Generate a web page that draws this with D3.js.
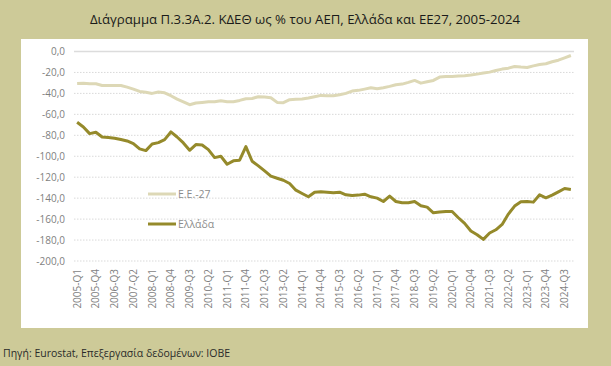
<!DOCTYPE html>
<html><head><meta charset="utf-8">
<script src="https://cdn.jsdelivr.net/npm/d3@7"></script>
<style>
html,body{margin:0;padding:0;background:#cdca98;}
svg{display:block;}
</style></head>
<body>
<svg id="c" width="611" height="366"></svg>
<script>
const title = "Διάγραμμα Π.3.3Α.2. ΚΔΕΘ ως % του ΑΕΠ, Ελλάδα και ΕΕ27, 2005-2024";
const source = "Πηγή: Eurostat, Επεξεργασία δεδομένων: ΙΟΒΕ";
const seriesNames = ["Ε.Ε.-27", "Ελλάδα"];
const quarters = [];
for (let y = 2005; y <= 2024; y++) for (let q = 1; q <= 4; q++) quarters.push(y + "-Q" + q);
const tickLabels = ["2005-Q1","2005-Q4","2006-Q3","2007-Q2","2008-Q1","2008-Q4","2009-Q3","2010-Q2","2011-Q1","2011-Q4","2012-Q3","2013-Q2","2014-Q1","2014-Q4","2015-Q3","2016-Q2","2017-Q1","2017-Q4","2018-Q3","2019-Q2","2020-Q1","2020-Q4","2021-Q3","2022-Q2","2023-Q1","2023-Q4","2024-Q3"];
const yTicks = [0,-20,-40,-60,-80,-100,-120,-140,-160,-180,-200];
const eu27 = [-30.5,-30.2,-30.8,-30.8,-32.4,-32.4,-32.4,-32.4,-34,-35.9,-38.1,-39,-40,-38.7,-39.4,-42.2,-45.4,-48,-50.8,-49.2,
  -48.6,-47.9,-47.9,-47,-47.9,-47.9,-46.7,-45.1,-44.8,-43.2,-43.5,-44.1,-48.6,-48.9,-46,-45.7,-45.4,-44.4,-43.2,-41.9,
  -42.2,-42.2,-41.3,-40,-37.8,-37.1,-35.9,-34.6,-35.6,-34.6,-33.3,-31.7,-31.1,-29.5,-27.6,-30.2,-28.9,-27.6,-24.4,-23.8,
  -23.8,-23.5,-23.2,-22.5,-21.6,-20.6,-19.7,-18.1,-16.8,-15.9,-14.3,-14.9,-15.2,-13.7,-12.4,-11.7,-9.8,-8.3,-6,-3.8];
const greece = [-67.6,-72,-78.4,-77.1,-81.6,-82.2,-82.9,-84.1,-85.4,-87.9,-93,-94.6,-88.3,-87,-84.1,-76.8,-81.6,-87.3,-94.3,-88.9,
  -89.2,-93.7,-101.3,-100,-107.6,-104.4,-103.8,-90.8,-104.8,-109.2,-114,-119,-121,-122.9,-126,-132.4,-135.6,-138.7,-134.3,-134,
  -134.3,-134.9,-134.3,-136.8,-137.5,-137.1,-136.2,-138.7,-140,-143.2,-138.1,-143.2,-144.4,-144.4,-143.2,-147.3,-148.6,-154,-153.3,-152.7,
  -152.7,-158.7,-164.1,-171.4,-174.9,-179.4,-173.3,-170.2,-165.1,-155.2,-147.6,-143.5,-143.2,-143.8,-136.8,-139.7,-137.1,-134,-130.8,-131.7];

const svg = d3.select("#c");
const font = "'Open Sans', 'Noto Sans', sans-serif";
svg.append("rect").attr("x",0).attr("y",0).attr("width",611).attr("height",366).attr("fill","#cdca98");
svg.append("rect").attr("x",21).attr("y",39).attr("width",567).attr("height",289).attr("fill","#ffffff");

svg.append("text").attr("x",305).attr("y",24).attr("text-anchor","middle")
  .attr("font-family",font).attr("font-size",13.2).attr("fill","#1a1a1a").text(title);
svg.append("text").attr("x",3).attr("y",357)
  .attr("font-family",font).attr("font-size",10.5).attr("fill","#2a2a2a").text(source);

const x = d3.scaleBand().domain(quarters).range([74,574]);
const y = d3.scaleLinear().domain([-200,0]).range([261,51.5]);
const cx = d => x(d) + x.bandwidth()/2;

// gridlines
const grid = svg.append("g");
yTicks.forEach(t => {
  grid.append("line").attr("x1",74).attr("x2",574).attr("y1",y(t)).attr("y2",y(t))
    .attr("stroke", t===0 ? "#dcdcdc" : "#d9d9d9")
    .attr("stroke-width", t===0 ? 1.5 : 1)
    .attr("stroke-dasharray", t===0 ? null : "1.5,1.5");
});

// y axis
const yAxis = d3.axisLeft(y).tickValues(yTicks).tickSize(0).tickPadding(0)
  .tickFormat(d => d3.format(".1f")(d).replace(".", ",").replace("−","-"));
const ya = svg.append("g").attr("transform","translate(65,0)").call(yAxis);
ya.select(".domain").remove();
ya.selectAll("text").attr("font-family",font).attr("font-size",10).attr("fill","#7f7f7f");

// x axis
const xAxis = d3.axisBottom(x).tickValues(tickLabels).tickSize(0).tickPadding(0);
const xa = svg.append("g").call(xAxis);
xa.select(".domain").remove();
xa.selectAll("text").attr("font-family",font).attr("font-size",10).attr("fill","#7f7f7f")
  .attr("text-anchor","end").attr("transform","rotate(-90)").attr("dy","0.35em").attr("x",0).attr("y",0);
xa.selectAll(".tick").attr("transform", d => `translate(${cx(d)},269)`);

const line = d3.line().x((d,i) => cx(quarters[i])).y(d => y(d));
svg.append("path").datum(eu27).attr("d",line).attr("fill","none").attr("stroke","#ddd8b6").attr("stroke-width",3).attr("stroke-linejoin","round");
svg.append("path").datum(greece).attr("d",line).attr("fill","none").attr("stroke","#958a2b").attr("stroke-width",3).attr("stroke-linejoin","round");

// legend
const leg = [{name:seriesNames[0], color:"#ddd8b6", y:194},{name:seriesNames[1], color:"#958a2b", y:224}];
leg.forEach(l => {
  svg.append("line").attr("x1",148).attr("x2",176).attr("y1",l.y).attr("y2",l.y).attr("stroke",l.color).attr("stroke-width",3);
  svg.append("text").attr("x",178).attr("y",l.y).attr("dy","0.35em").attr("font-family",font).attr("font-size",10.5).attr("fill","#8c8c8c").text(l.name);
});
</script>
</body></html>
